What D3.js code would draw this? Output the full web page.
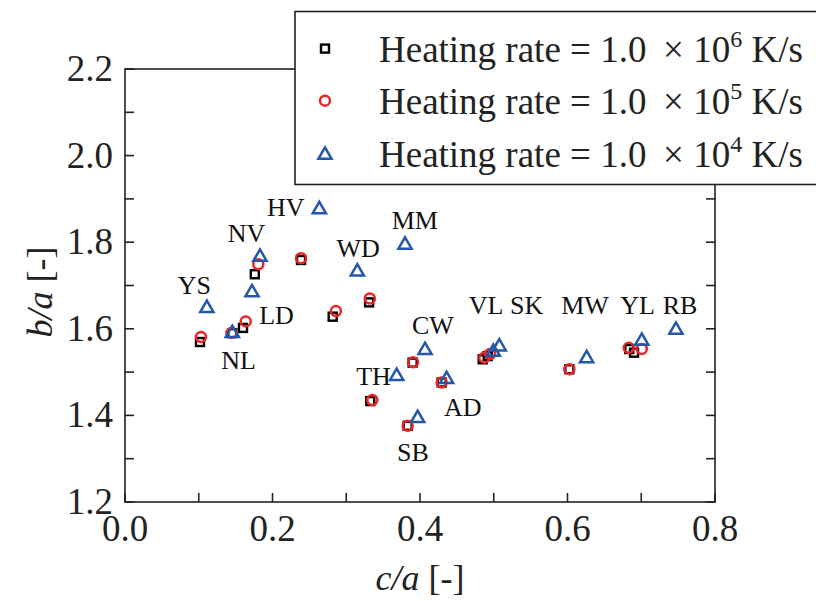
<!DOCTYPE html>
<html><head><meta charset="utf-8">
<script src="https://cdn.jsdelivr.net/npm/d3@7"></script>
<style>body{margin:0;background:#fff}svg{display:block}</style>
</head><body><svg id="c" width="816" height="601"></svg>
<script>
// Data: c/a (x) and b/a (y) for each heating rate
const series1e6 = [ // squares
  [0.1017,1.5695],[0.1455,1.590],[0.160,1.602],[0.176,1.726],[0.2387,1.759],
  [0.331,1.661],[0.2816,1.628],[0.390,1.522],[0.3326,1.433],[0.4294,1.476],
  [0.3833,1.376],[0.485,1.5296],[0.4918,1.537],[0.6025,1.5065],[0.6838,1.5533],[0.6902,1.5448]
];
const series1e5 = [ // circles
  [0.103,1.581],[0.1443,1.5905],[0.1637,1.617],[0.1807,1.749],[0.2387,1.763],
  [0.332,1.670],[0.286,1.641],[0.3906,1.5226],[0.3354,1.4356],[0.4294,1.476],
  [0.3833,1.376],[0.4872,1.5333],[0.495,1.5418],[0.6025,1.5065],[0.683,1.556],[0.7007,1.5533]
];
const series1e4 = [ // triangles
  [0.111,1.650],[0.1455,1.592],[0.1722,1.686],[0.183,1.768],[0.2635,1.878],
  [0.3797,1.796],[0.315,1.734],[0.4068,1.5527],[0.3684,1.493],[0.436,1.4857],
  [0.3968,1.3956],[0.4994,1.5487],[0.5075,1.561],[0.626,1.534],[0.7007,1.5741],[0.747,1.5995]
];
const pointLabels = [
  ["HV",0.218,1.881],["NV",0.1647,1.821],["MM",0.393,1.851],["WD",0.316,1.7866],
  ["YS",0.0942,1.701],["LD",0.2054,1.632],["NL",0.1539,1.528],["CW",0.4176,1.6088],
  ["TH",0.337,1.491],["AD",0.458,1.419],["SB",0.3905,1.315],["VL",0.4895,1.655],
  ["SK",0.5445,1.655],["MW",0.6237,1.655],["YL",0.695,1.655],["RB",0.7525,1.655]
];
const xTicks = [0.0,0.2,0.4,0.6,0.8];
const yTicks = [1.2,1.4,1.6,1.8,2.0,2.2];
const legendExp = ["6","5","4"];

const svg = d3.select("#c");
const L=125,R=715,T=69,B=502;
const x = d3.scaleLinear().domain([0,0.8]).range([L,R]);
const y = d3.scaleLinear().domain([1.2,2.2]).range([B,T]);
const serif = "'Liberation Serif','Times New Roman',serif";
const red="#ee2424", blue="#2456aa", black="#000";

// frame
svg.append("rect").attr("x",L).attr("y",T).attr("width",R-L).attr("height",B-T)
  .attr("fill","none").attr("stroke","#222").attr("stroke-width",1.6);

// ticks (inward) bottom, left, right
const minorX = d3.range(0,0.81,0.1), minorY = d3.range(1.2,2.21,0.1);
const g = svg.append("g").attr("stroke","#222").attr("stroke-width",1.6);
minorX.forEach(v=>g.append("line").attr("x1",x(v)).attr("x2",x(v)).attr("y1",B).attr("y2",B-9));
minorY.forEach(v=>{
  g.append("line").attr("x1",L).attr("x2",L+9).attr("y1",y(v)).attr("y2",y(v));
  g.append("line").attr("x1",R).attr("x2",R-9).attr("y1",y(v)).attr("y2",y(v));
});

// tick labels
svg.append("g").selectAll("text").data(xTicks).join("text")
  .attr("x",d=>x(d)).attr("y",B+39).attr("text-anchor","middle")
  .attr("font-family",serif).attr("font-size",37).attr("fill","#222")
  .text(d=>d3.format(".1f")(d));
svg.append("g").selectAll("text").data(yTicks).join("text")
  .attr("x",L-12).attr("y",d=>y(d)+12).attr("text-anchor","end")
  .attr("font-family",serif).attr("font-size",37).attr("fill","#222")
  .text(d=>d3.format(".1f")(d));

// axis titles
const xt = svg.append("text").attr("x",(L+R)/2).attr("y",590).attr("text-anchor","middle")
  .attr("font-family",serif).attr("font-size",36).attr("fill","#222");
xt.append("tspan").attr("font-style","italic").text("c/a");
xt.append("tspan").text(" [-]");
const yt = svg.append("text").attr("transform","translate(52,292) rotate(-90)").attr("text-anchor","middle")
  .attr("font-family",serif).attr("font-size",36).attr("fill","#222");
yt.append("tspan").attr("font-style","italic").text("b/a");
yt.append("tspan").text(" [-]");

// markers
const sq = 8, cr = 5, tri = d3.symbol().type(d3.symbolTriangle).size(75);
function drawSquare(sel, px, py){ sel.append("rect").attr("x",px-sq/2).attr("y",py-sq/2).attr("width",sq).attr("height",sq)
  .attr("fill","none").attr("stroke",black).attr("stroke-width",2.4); }
function drawCircle(sel, px, py){ sel.append("circle").attr("cx",px).attr("cy",py).attr("r",cr)
  .attr("fill","none").attr("stroke",red).attr("stroke-width",2.5); }
function drawTri(sel, px, py){ sel.append("path").attr("d",tri()).attr("transform",`translate(${px},${py+1})`)
  .attr("fill","none").attr("stroke",blue).attr("stroke-width",2.5).attr("stroke-linejoin","miter"); }

const gm = svg.append("g");
series1e6.forEach(d=>drawSquare(gm, x(d[0]), y(d[1])));
series1e5.forEach(d=>drawCircle(gm, x(d[0]), y(d[1])));
series1e4.forEach(d=>drawTri(gm, x(d[0]), y(d[1])));

// point labels
svg.append("g").selectAll("text").data(pointLabels).join("text")
  .attr("x",d=>x(d[1])).attr("y",d=>y(d[2])+9).attr("text-anchor","middle")
  .attr("font-family",serif).attr("font-size",26).attr("fill","#111")
  .text(d=>d[0]);

// legend
const lg = svg.append("g");
lg.append("rect").attr("x",295).attr("y",11.5).attr("width",540).attr("height",173)
  .attr("fill","#fff").attr("stroke","#222").attr("stroke-width",1.6);
const rowY = [48.6,100.7,154];
drawSquare(lg, 325, rowY[0]);
drawCircle(lg, 325, rowY[1]);
drawTri(lg, 325, rowY[2]);
legendExp.forEach((e,i)=>{
  const t = lg.append("text").attr("x",379).attr("y",rowY[i]+13)
    .attr("font-family",serif).attr("font-size",37).attr("fill","#222").attr("xml:space","preserve");
  t.append("tspan").text("Heating rate = 1.0 \u2009\u00d7 10");
  t.append("tspan").attr("font-size",24).attr("dy",-15).text(e);
  t.append("tspan").attr("dy",15).text(" K/s");
});
</script></body></html>
